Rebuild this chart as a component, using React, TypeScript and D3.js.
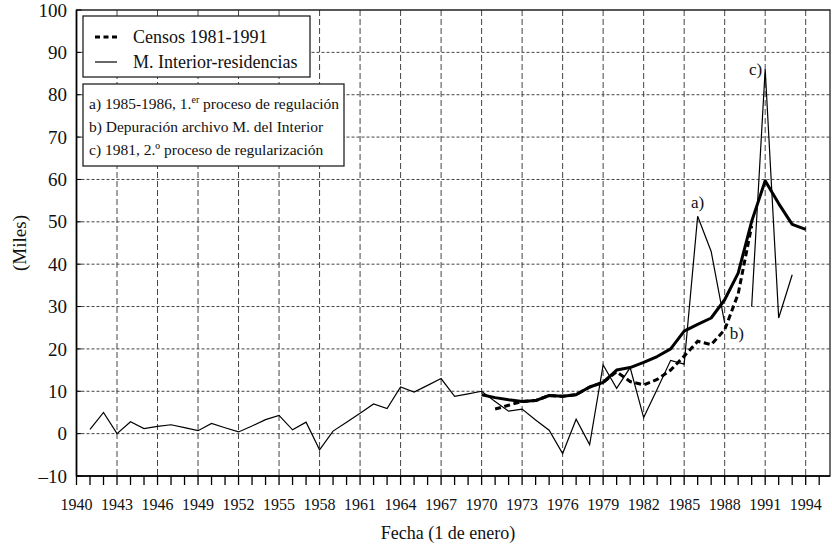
import React from "react";
import * as d3 from "d3";

// M. Interior-residencias (thin line), 1941-1993, 1989 missing
const interiorYears = d3.range(1941, 1994);
const interiorValues: (number | null)[] = [
  1.0, 5.0, 0.0, 2.8, 1.2, 1.7, 2.1, 1.4, 0.7, 2.4,
  1.4, 0.4, 1.8, 3.3, 4.3, 0.9, 2.7, -3.8, 0.6, 2.7,
  4.8, 7.0, 5.9, 11.0, 9.8, 11.4, 13.0, 8.8, 9.4, 10.0,
  7.6, 5.3, 5.8, 3.2, 0.8, -4.7, 3.4, -2.6, 16.2, 10.7,
  15.6, 3.8, 10.5, 17.3, 16.4, 51.3, 43.0, 26.1, null, 30.0,
  86.0, 27.3, 37.5,
];

// thick solid line, 1970-1994
const estimateYears = d3.range(1970, 1995);
const estimateValues = [
  9.2, 8.5, 8.0, 7.6, 7.8, 9.0, 8.8, 9.2, 11.0, 12.1,
  15.0, 15.6, 16.8, 18.2, 20.0, 24.2, 25.8, 27.3, 31.6, 37.9,
  50.1, 59.7, 54.3, 49.4, 48.2,
];

// Censos 1981-1991 (thick dashed), 1971-1990
const censosYears = d3.range(1971, 1991);
const censosValues = [
  5.8, 6.7, 7.6, 7.8, 9.0, 8.8, 9.2, 11.0, 12.1, 14.6,
  12.3, 11.5, 12.8, 15.0, 18.3, 21.8, 21.0, 24.5, 33.0, 49.0,
];

const yTicks = [-10, 0, 10, 20, 30, 40, 50, 60, 70, 80, 90, 100];
const xLabelYears = d3.range(1940, 1995, 3);
const xMinorYears = d3.range(1940, 1996);
const xGridYears = d3.range(1943, 1995, 3);

const FONT = "Liberation Serif, DejaVu Serif, Times New Roman, serif";

export default function App() {
  const left = 76.5;
  const right = 830;
  const top = 10;
  const bottom = 476;

  const x = d3.scaleLinear().domain([1940, 1995.8]).range([left, right]);
  const y = d3.scaleLinear().domain([-10, 100]).range([bottom, top]);

  const line = d3
    .line<[number, number | null]>()
    .defined((d) => d[1] !== null)
    .x((d) => x(d[0]))
    .y((d) => y(d[1] as number));

  const interior = line(interiorYears.map((yr, i) => [yr, interiorValues[i]]));
  const estimate = line(estimateYears.map((yr, i) => [yr, estimateValues[i]]));
  const censos = line(censosYears.map((yr, i) => [yr, censosValues[i]]));

  return (
    <svg
      width={832}
      height={548}
      style={{ position: "absolute", left: 0, top: 0, background: "#fff", fontFamily: FONT }}
    >
      {/* grid */}
      {yTicks
        .filter((t) => t > -10 && t < 100)
        .map((t) => (
          <line
            key={"hy" + t}
            x1={left}
            x2={right}
            y1={y(t)}
            y2={y(t)}
            stroke="#444"
            strokeWidth={1}
            strokeDasharray="3,2"
          />
        ))}
      {xGridYears.map((yr) => (
        <line
          key={"vx" + yr}
          x1={x(yr)}
          x2={x(yr)}
          y1={top}
          y2={bottom}
          stroke="#444"
          strokeWidth={1}
          strokeDasharray="6,3"
        />
      ))}

      {/* frame */}
      <path
        d={`M${left},${top}H${right}V${bottom}H${left}Z`}
        fill="none"
        stroke="#222"
        strokeWidth={1.3}
      />

      {/* axes ticks */}
      {yTicks.map((t) => (
        <g key={"yt" + t}>
          <line x1={left} x2={left + 5} y1={y(t)} y2={y(t)} stroke="#000" />
          <text
            x={67}
            y={y(t)}
            dy="0.35em"
            textAnchor="end"
            fontSize={19}
            fill="#111"
          >
            {t < 0 ? "–" + Math.abs(t) : t}
          </text>
        </g>
      ))}
      {xMinorYears.map((yr) => (
        <line
          key={"xt" + yr}
          x1={x(yr)}
          x2={x(yr)}
          y1={bottom}
          y2={bottom + 9}
          stroke="#000"
          strokeWidth={1.3}
        />
      ))}
      <line x1={left} x2={right} y1={bottom} y2={bottom} stroke="#000" strokeWidth={1.6} />
      <line x1={left} x2={left} y1={top} y2={bottom} stroke="#000" strokeWidth={1.6} />
      {xLabelYears.map((yr) => (
        <text
          key={"xl" + yr}
          x={x(yr)}
          y={510}
          textAnchor="middle"
          fontSize={16}
          fill="#111"
        >
          {yr}
        </text>
      ))}

      {/* axis titles */}
      <text x={448} y={539} textAnchor="middle" fontSize={18} fill="#111">
        Fecha (1 de enero)
      </text>
      <text
        transform="translate(26,243) rotate(-90)"
        textAnchor="middle"
        fontSize={19}
        fill="#111"
      >
        (Miles)
      </text>

      {/* series */}
      <path d={censos ?? ""} fill="none" stroke="#000" strokeWidth={3} strokeDasharray="6,3.5" />
      <path d={estimate ?? ""} fill="none" stroke="#000" strokeWidth={3} strokeLinejoin="round" />
      <path d={interior ?? ""} fill="none" stroke="#000" strokeWidth={1.2} />

      {/* annotations */}
      <text x={x(1986)} y={y(51.3) - 8} textAnchor="middle" fontSize={17} fill="#111">
        a)
      </text>
      <text x={x(1988) + 5} y={y(26.1) + 16} fontSize={17} fill="#111">
        b)
      </text>
      <text x={x(1991) - 3} y={y(86) + 6} textAnchor="end" fontSize={17} fill="#111">
        c)
      </text>

      {/* legend */}
      <rect x={83} y={16} width={227} height={61} fill="#fff" stroke="#222" strokeWidth={1.3} />
      <line x1={95} x2={117} y1={37} y2={37} stroke="#000" strokeWidth={3} strokeDasharray="5,3.5" />
      <line x1={95} x2={117} y1={62} y2={62} stroke="#000" strokeWidth={1.2} />
      <text x={133} y={43} fontSize={18} fill="#111">Censos 1981-1991</text>
      <text x={133} y={68} fontSize={18} fill="#111">M. Interior-residencias</text>

      <rect x={83} y={84} width={261} height={82} fill="#fff" stroke="#222" strokeWidth={1.3} />
      <text x={89} y={109} fontSize={15.5} fill="#111">
        a) 1985-1986, 1.
        <tspan fontSize={10} dy={-6}>er</tspan>
        <tspan dy={6}> proceso de regulación</tspan>
      </text>
      <text x={89} y={132} fontSize={15.5} fill="#111">
        b) Depuración archivo M. del Interior
      </text>
      <text x={89} y={155} fontSize={15.5} fill="#111">
        c) 1981, 2.º proceso de regularización
      </text>
    </svg>
  );
}
